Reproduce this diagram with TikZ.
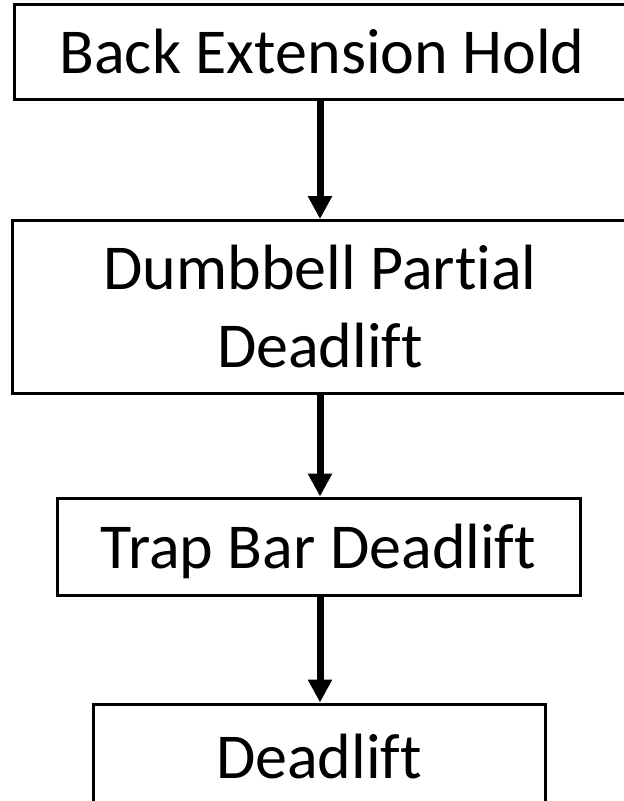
\documentclass[tikz,border=0pt]{standalone}
\usepackage{fontspec}
\setmainfont{Carlito}[Ligatures=CommonOff]
\usetikzlibrary{arrows.meta}
\begin{document}
\begin{tikzpicture}[x=1pt,y=-1pt,
  stepbox/.style={draw=black,line width=3pt,fill=white,inner sep=0pt,
    font=\fontsize{64}{78}\selectfont,align=center,text depth=0pt},
  flowarrow/.style={line width=7pt,-{Triangle[width=23pt,length=23pt]}}]
\useasboundingbox (0,0) rectangle (624,801);
\node[stepbox,minimum width=616pt,minimum height=95pt] (b1) at (322,51.5) {Back Extension Hold};
\node[stepbox,minimum width=616pt,minimum height=173pt,text depth=] (b2) at (320,307) {Dumbbell Partial\\Deadlift};
\node[stepbox,minimum width=523pt,minimum height=97pt] (b3) at (318.5,546.5) {Trap Bar Deadlift};
\node[stepbox,minimum width=452pt,minimum height=104pt] (b4) at (319,756) {Deadlift};
\coordinate (a1s) at (320,99);
\coordinate (a1e) at (320,221);
\coordinate (a2s) at (320,394);
\coordinate (a2e) at (320,498);
\coordinate (a3s) at (320,595);
\coordinate (a3e) at (320,704);
\draw[flowarrow] (b1.south -| a1s) -- (b2.north -| a1e);
\draw[flowarrow] (b2.south -| a2s) -- (b3.north -| a2e);
\draw[flowarrow] (b3.south -| a3s) -- (b4.north -| a3e);
\end{tikzpicture}
\end{document}
